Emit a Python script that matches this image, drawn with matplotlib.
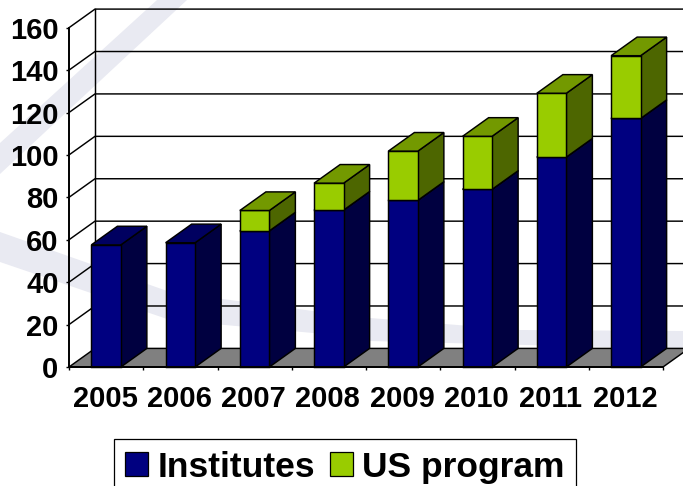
import matplotlib
matplotlib.use("Agg")
import matplotlib.pyplot as plt
from matplotlib.patches import Polygon, Patch
from matplotlib.transforms import ScaledTranslation

plt.rcParams['font.family'] = ['Liberation Sans', 'DejaVu Sans']

years = ['2005', '2006', '2007', '2008', '2009', '2010', '2011', '2012']
institutes = [57.6, 58.6, 64.2, 74, 78.6, 83.8, 99, 117.2]
us_program = [0, 0, 9.6, 12.7, 23.2, 25, 30.1, 29.6]
y_ticks = [0, 20, 40, 60, 80, 100, 120, 140, 160]

W, H = 683, 486
fig = plt.figure(figsize=(W / 100, H / 100), dpi=100, facecolor='white')
L, R, T, B = 69, 663, 27.7, 367
ax = fig.add_axes([L / W, 1 - B / H, (R - L) / W, (B - T) / H])
ax.set_xlim(0, len(years))
ax.set_ylim(0, 160)
ax.patch.set_visible(False)

# pale background swooshes (figure decoration, in pixels)
def px(pts):
    return [(x / W, 1 - y / H) for x, y in pts]
SW = '#E9EAF2'
fig.patches.append(Polygon(px([(157, 0), (187, 0), (0, 174), (0, 143)]), closed=True, fc=SW, ec='none',
                           transform=fig.transFigure, zorder=-5))
fig.patches.append(Polygon(px([(0, 232), (170, 292), (313, 311), (370, 318), (520, 330), (683, 331),
                               (683, 349), (370, 341), (313, 333), (170, 320), (0, 262)]),
                           closed=True, fc=SW, ec='none', transform=fig.transFigure, zorder=-5))

DX = 26 / ((R - L) / len(years))
DY = 18.6 / ((B - T) / 160)
BW = 29.5 / ((R - L) / len(years))
LW = 1.05
n = len(years)

# floor
ax.add_patch(Polygon([(0, 0), (DX, DY), (n + DX, DY), (n, 0)], closed=True, fc='#808080', ec='black',
                     lw=LW, clip_on=False, zorder=1))
# walls: gridlines
for v in y_ticks:
    if v > 0:
        ax.plot([0, DX, n + DX], [v, v + DY, v + DY], color='black', lw=LW, clip_on=False, zorder=1.5)
ax.plot([DX, DX], [DY, 160 + DY], color='black', lw=LW, clip_on=False, zorder=1.5)


def box(x0, x1, y0, y1, front, side, top, z):
    ax.add_patch(Polygon([(x1, y0), (x1 + DX, y0 + DY), (x1 + DX, y1 + DY), (x1, y1)], closed=True,
                         fc=side, ec='black', lw=LW, clip_on=False, zorder=z))
    ax.add_patch(Polygon([(x0, y0), (x1, y0), (x1, y1), (x0, y1)], closed=True,
                         fc=front, ec='black', lw=LW, clip_on=False, zorder=z + 0.01))
    ax.add_patch(Polygon([(x0, y1), (x1, y1), (x1 + DX, y1 + DY), (x0 + DX, y1 + DY)], closed=True,
                         fc=top, ec='black', lw=LW, clip_on=False, zorder=z + 0.02))


for i, (a, b) in enumerate(zip(institutes, us_program)):
    c = i + 0.5
    x0, x1 = c - BW / 2, c + BW / 2
    box(x0, x1, 0, a, '#000080', '#000040', '#000060', 2 + i * 0.1)
    if b > 0:
        box(x0, x1, a, a + b, '#99CC00', '#4D6600', '#739900', 2.05 + i * 0.1)

# axes
for s in ('top', 'right'):
    ax.spines[s].set_visible(False)
for s in ('left', 'bottom'):
    ax.spines[s].set_linewidth(1.4)
    ax.spines[s].set_zorder(4)
ax.set_yticks(y_ticks)
ax.set_yticklabels([str(v) for v in y_ticks], fontsize=21, fontweight='bold')
ax.tick_params(axis='y', length=2.5, width=1, pad=5)
ax.set_xticks([i + 0.5 for i in range(n)])
ax.set_xticklabels(years, fontsize=21, fontweight='bold')
ax.set_xticks(list(range(n + 1)), minor=True)
ax.tick_params(axis='x', which='major', length=0, pad=13)
ax.tick_params(axis='x', which='minor', length=2.5, width=1)
shift = ScaledTranslation(-1.0 / 100, 0, fig.dpi_scale_trans)
for lab in ax.get_xticklabels():
    lab.set_transform(lab.get_transform() + shift)

handles = [Patch(fc='#000080', ec='black', lw=0.9, label='Institutes'),
           Patch(fc='#99CC00', ec='black', lw=0.9, label='US program')]
leg = fig.legend(handles=handles, ncol=2, loc='upper left', bbox_to_anchor=(113.5 / W, 1 - 439 / H),
                 frameon=True, fancybox=False, edgecolor='black', facecolor='white',
                 framealpha=1, handlelength=0.65, handleheight=0.65, handletextpad=0.27,
                 columnspacing=0.40, borderpad=0.33, borderaxespad=0,
                 prop={'family': ['Liberation Sans'], 'weight': 'bold', 'size': 25.5})
leg.get_frame().set_linewidth(0.9)

fig.savefig('out.png', dpi=100)
